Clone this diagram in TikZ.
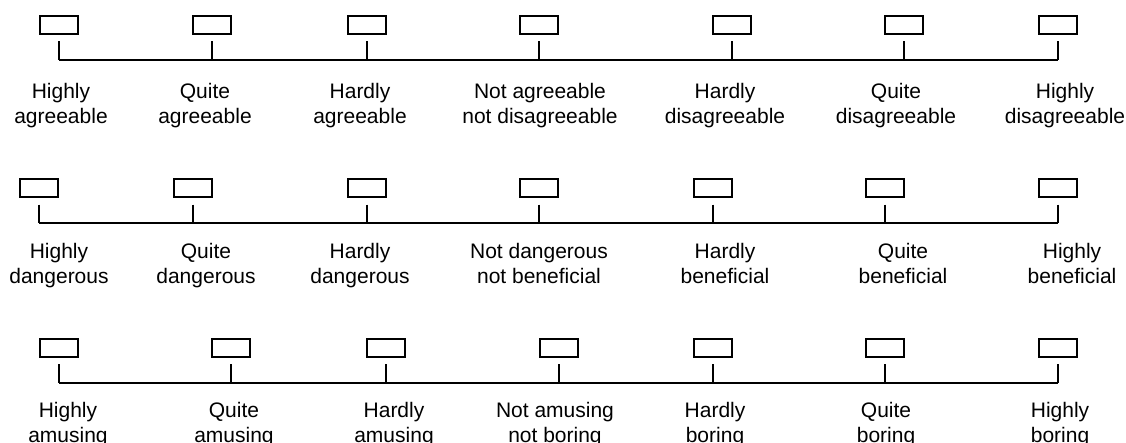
\documentclass[tikz,border=0pt]{standalone}
\usepackage{fontspec}
\setmainfont{Liberation Sans}
\begin{document}
\begin{tikzpicture}[x=1pt,y=-1pt,
  box/.style={draw,line width=2pt,minimum width=38pt,minimum height=18pt,inner sep=0pt},
  conn/.style={line width=2pt},
  lbl/.style={align=center,anchor=north,inner sep=0pt,font=\fontsize{21}{25}\selectfont}]
\useasboundingbox (0,0) rectangle (1126,442);
% Row 1
\foreach \x/\lx/\t [count=\i] in {59/61/{Highly\\agreeable},212/205/{Quite\\agreeable},367/360/{Hardly\\agreeable},539/540/{Not agreeable\\not disagreeable},732/725/{Hardly\\disagreeable},904/896/{Quite\\disagreeable},1058/1065/{Highly\\disagreeable}}{
  \node[box] (ab\i) at (\x,24.5) {};
  \coordinate (al\i) at (\x,60);
  \draw[conn,shorten <=6.5pt] (ab\i) -- (al\i);
  \node[lbl] (at\i) at (\lx,83) {\t};
}
\draw[conn] (al1) -- (al7);
% Row 2
\foreach \x/\lx/\t [count=\i] in {39/59/{Highly\\dangerous},193/206/{Quite\\dangerous},367/360/{Hardly\\dangerous},539/539/{Not dangerous\\not beneficial},713/725/{Hardly\\beneficial},885/903/{Quite\\beneficial},1058/1072/{Highly\\beneficial}}{
  \node[box] (bb\i) at (\x,188) {};
  \coordinate (bl\i) at (\x,223);
  \draw[conn,shorten <=6.5pt] (bb\i) -- (bl\i);
  \node[lbl] (bt\i) at (\lx,243) {\t};
}
\draw[conn] (bl1) -- (bl7);
% Row 3
\foreach \x/\lx/\t [count=\i] in {59/68/{Highly\\amusing},231/234/{Quite\\amusing},386/394/{Hardly\\amusing},559/555/{Not amusing\\not boring},713/715/{Hardly\\boring},885/886/{Quite\\boring},1058/1060/{Highly\\boring}}{
  \node[box] (cb\i) at (\x,347.5) {};
  \coordinate (cl\i) at (\x,383);
  \draw[conn,shorten <=6.5pt] (cb\i) -- (cl\i);
  \node[lbl] (ct\i) at (\lx,402) {\t};
}
\draw[conn] (cl1) -- (cl7);
\end{tikzpicture}
\end{document}
